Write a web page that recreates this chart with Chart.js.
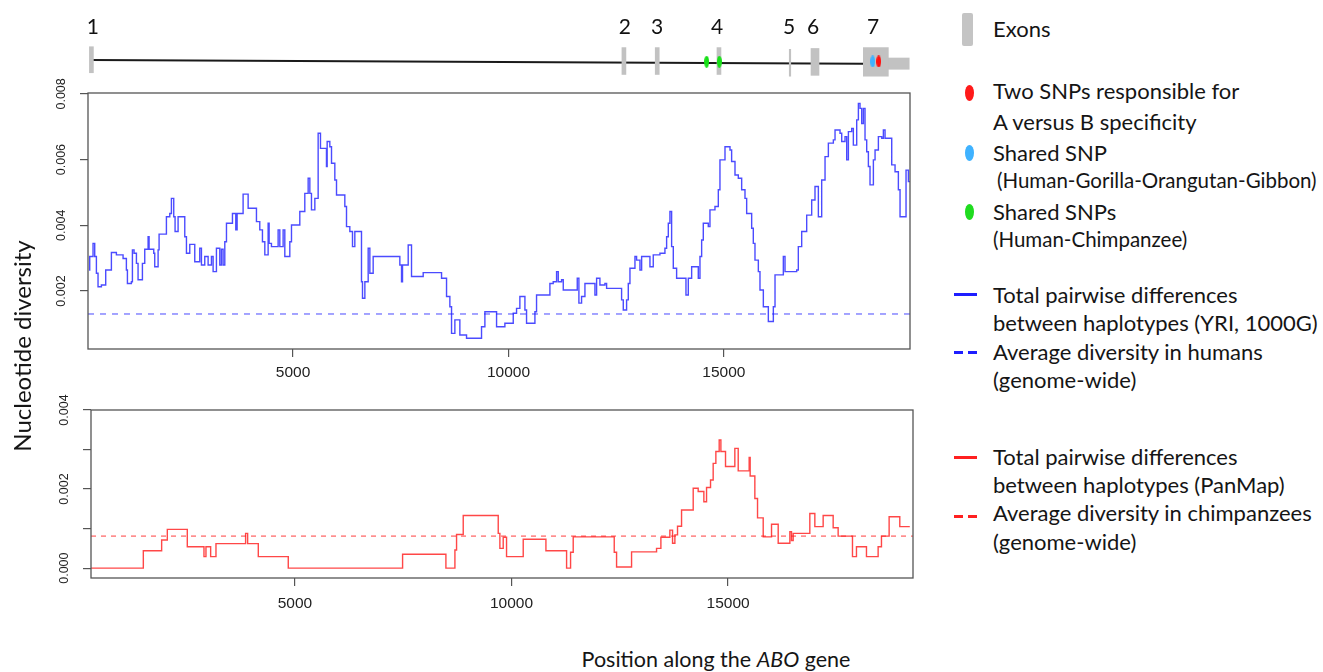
<!DOCTYPE html>
<html>
<head>
<meta charset="utf-8">
<script src="https://cdn.jsdelivr.net/npm/chart.js@4"></script>
<style>
  body { margin: 0; width: 1323px; height: 672px; position: relative; overflow: hidden; background: #fff; font-family: Lato, sans-serif; color: #151515; }
  canvas { position: absolute; left: 0; }
  .t { position: absolute; white-space: nowrap; font-size: 22px; line-height: 22px; }
  .s { font-size: 20.5px; line-height: 20px; }
  .mk { position: absolute; }
</style>
</head>
<body>
<canvas id="gene" width="930" height="90" style="top:0"></canvas>
<canvas id="human" width="930" height="320" style="top:70px"></canvas>
<canvas id="chimp" width="930" height="240" style="top:385px"></canvas>

<div class="t" style="left:-128px;top:335px;width:300px;text-align:center;transform:rotate(-90deg);font-size:24px">Nucleotide diversity</div>
<div class="t" style="left:566px;top:648px;width:300px;text-align:center;font-size:21.5px">Position along the <i>ABO</i> gene</div>

<!-- legend -->
<div class="mk" style="left:962px;top:13px;width:11px;height:33px;background:#c4c4c4;border-radius:2px"></div>
<div class="t" style="left:993px;top:17.5px">Exons</div>
<div class="mk" style="left:964.5px;top:84.5px;width:9px;height:16px;background:#ff1a1a;border-radius:50%"></div>
<div class="t" style="left:993px;top:80px">Two SNPs responsible for</div>
<div class="t" style="left:993px;top:110.5px">A versus B specificity</div>
<div class="mk" style="left:964.5px;top:144.5px;width:9px;height:16px;background:#3fb2ff;border-radius:50%"></div>
<div class="t" style="left:993px;top:142px">Shared SNP</div>
<div class="t s" style="left:997px;top:170px">(Human-Gorilla-Orangutan-Gibbon)</div>
<div class="mk" style="left:964.5px;top:204px;width:9px;height:16px;background:#1fdc1f;border-radius:50%"></div>
<div class="t" style="left:993px;top:200.5px">Shared SNPs</div>
<div class="t s" style="left:993px;top:229px">(Human-Chimpanzee)</div>

<div class="mk" style="left:954px;top:292.5px;width:23px;height:3px;background:#1e1eff"></div>
<div class="t" style="left:993px;top:283.5px">Total pairwise differences</div>
<div class="t" style="left:993px;top:312px">between haplotypes (YRI, 1000G)</div>
<div class="mk" style="left:954px;top:351px;width:9px;height:3px;background:#1e1eff"></div>
<div class="mk" style="left:968px;top:351px;width:9px;height:3px;background:#1e1eff"></div>
<div class="t" style="left:993px;top:340.5px">Average diversity in humans</div>
<div class="t" style="left:993px;top:368.5px">(genome-wide)</div>

<div class="mk" style="left:954px;top:455.5px;width:23px;height:3px;background:#ff2020"></div>
<div class="t" style="left:993px;top:445.5px">Total pairwise differences</div>
<div class="t" style="left:993px;top:473.5px">between haplotypes (PanMap)</div>
<div class="mk" style="left:954px;top:514.5px;width:9px;height:3px;background:#ff2020"></div>
<div class="mk" style="left:968px;top:514.5px;width:9px;height:3px;background:#ff2020"></div>
<div class="t" style="left:993px;top:502px">Average diversity in chimpanzees</div>
<div class="t" style="left:993px;top:530.5px">(genome-wide)</div>

<script>
// ---- data ----
const xTicks = [5000, 10000, 15000];
const humanYTicks = [0.002, 0.004, 0.006, 0.008];
const chimpYTicks = [0, 0.001, 0.002, 0.003, 0.004];

// nucleotide diversity, YRI (1000G), step starts
const humanPos = [266, 281, 358, 397, 436, 474, 552, 652, 784, 900, 1055, 1132, 1156, 1248, 1272, 1310, 1365, 1403, 1504, 1558,
  1636, 1659, 1767, 1790, 1868, 1891, 2061, 2139, 2177, 2231, 2262, 2332, 2487, 2526, 2603, 2719, 2835, 2874, 2951, 3029,
  3106, 3145, 3222, 3300, 3338, 3377, 3416, 3455, 3594, 3671, 3702, 3841, 3958, 4151, 4228, 4290, 4345, 4422, 4445, 4499,
  4654, 4693, 4770, 4809, 4925, 4964, 5157, 5273, 5351, 5390, 5428, 5506, 5583, 5637, 5776, 5792, 5854, 5893, 5970, 6009,
  6202, 6241, 6318, 6380, 6434, 6589, 6612, 6667, 6744, 6783, 6860, 7479, 7518, 7541, 7673, 7750, 8021, 8447, 8563, 8640,
  8679, 8756, 8872, 9027, 9375, 9453, 9724, 9917, 10111, 10188, 10265, 10382, 10420, 10614, 10652, 10962, 11039, 11117, 11156, 11233,
  11272, 11597, 11635, 11697, 11775, 12007, 12046, 12123, 12239, 12278, 12626, 12665, 12742, 12781, 12820, 12936, 12974, 13052, 13091, 13284,
  13361, 13516, 13632, 13671, 13710, 13748, 13787, 13826, 13903, 14120, 14174, 14252, 14406, 14445, 14484, 14522, 14638, 14677, 14793, 14871,
  14909, 15026, 15142, 15180, 15258, 15335, 15413, 15490, 15529, 15645, 15683, 15722, 15800, 15838, 15916, 16032, 16148, 16187, 16380, 16419,
  16690, 16728, 16806, 16922, 17038, 17115, 17193, 17270, 17348, 17425, 17541, 17580, 17696, 17735, 17812, 17851, 17890, 17967, 18005, 18083,
  18122, 18160, 18199, 18238, 18276, 18315, 18354, 18392, 18470, 18509, 18586, 18664, 18702, 18741, 18896, 18973, 19050, 19089, 19228, 19283, 19320];
const humanPi = [0.00264, 0.00305, 0.00345, 0.00305, 0.00254, 0.00213, 0.00218, 0.00264, 0.00317, 0.0031, 0.00299, 0.00264, 0.00223, 0.00228, 0.00325, 0.00315, 0.00284, 0.00234, 0.00284, 0.00327,
  0.00365, 0.00327, 0.00315, 0.00274, 0.00325, 0.00373, 0.00426, 0.00436, 0.00482, 0.00426, 0.00381, 0.00426, 0.00365, 0.00315, 0.00342, 0.00289, 0.0033, 0.00279, 0.00305, 0.00279,
  0.00305, 0.00259, 0.0033, 0.00279, 0.00327, 0.00279, 0.0035, 0.00406, 0.00436, 0.00386, 0.00436, 0.00495, 0.00452, 0.00411, 0.00386, 0.0035, 0.0031, 0.00406, 0.00345, 0.00335,
  0.00386, 0.00335, 0.00386, 0.00305, 0.0035, 0.00401, 0.00442, 0.00497, 0.00543, 0.00497, 0.00447, 0.00482, 0.0068, 0.00634, 0.00579, 0.00655, 0.00639, 0.00589, 0.00538, 0.00492,
  0.00457, 0.00396, 0.00381, 0.00335, 0.00381, 0.00228, 0.00178, 0.00228, 0.0033, 0.00254, 0.00305, 0.00279, 0.00228, 0.00279, 0.0034, 0.00244, 0.00256, 0.00239, 0.00183, 0.00152,
  0.00071, 0.00112, 0.00066, 0.00056, 0.00091, 0.00137, 0.00091, 0.00102, 0.00132, 0.00147, 0.00183, 0.00142, 0.00102, 0.00137, 0.00188, 0.00223, 0.00228, 0.00259, 0.00228, 0.00234,
  0.00203, 0.00239, 0.00163, 0.00183, 0.00223, 0.00188, 0.00239, 0.00218, 0.00223, 0.00208, 0.00173, 0.00142, 0.00173, 0.00223, 0.00269, 0.00305, 0.00294, 0.00264, 0.00305, 0.00274,
  0.0031, 0.00315, 0.0033, 0.00365, 0.00406, 0.00442, 0.00335, 0.00269, 0.00239, 0.00188, 0.00239, 0.00274, 0.00239, 0.00305, 0.00355, 0.00406, 0.00396, 0.00447, 0.00457, 0.00508,
  0.00599, 0.00639, 0.00629, 0.00594, 0.00553, 0.00543, 0.00508, 0.00482, 0.00436, 0.00391, 0.00345, 0.00294, 0.00259, 0.00203, 0.00152, 0.00107, 0.00152, 0.00249, 0.00305, 0.00259,
  0.00264, 0.00335, 0.00381, 0.00431, 0.00477, 0.00518, 0.00426, 0.00538, 0.00609, 0.0065, 0.0066, 0.0069, 0.0068, 0.00655, 0.0067, 0.00599, 0.00685, 0.00695, 0.00644, 0.00721,
  0.00771, 0.00756, 0.0071, 0.00756, 0.0066, 0.00624, 0.00579, 0.00523, 0.00599, 0.00629, 0.0067, 0.00665, 0.0069, 0.00665, 0.00584, 0.00563, 0.00508, 0.00426, 0.00568, 0.00533, 0.00533];
const humanAvg = 0.0013;

// nucleotide diversity, chimpanzee (PanMap), step starts
const chimpPos = [293, 1501, 1924, 2055, 2516, 2901, 2947, 3055, 3178, 3862, 3909, 4155, 4847, 7486, 8486, 8694, 8732, 8886, 9694, 9732,
  9809, 9886, 10271, 10795, 11272, 11364, 11425, 12372, 12426, 12772, 13349, 13449, 13656, 13718, 13772, 13833, 13926, 14195, 14310, 14441,
  14503, 14595, 14656, 14718, 14795, 14834, 14941, 15156, 15234, 15487, 15510, 15618, 15680, 15811, 16003, 16157, 16426, 16464, 16503, 16887,
  17003, 17195, 17426, 17541, 17872, 17964, 18195, 18464, 18541, 18718, 18964, 19195];
const chimpPi = [0, 0.00044, 0.00071, 0.00098, 0.00054, 0.00029, 0.00054, 0.00029, 0.00062, 0.00088, 0.00062, 0.00029, 0, 0.00035, 0, 0.00046, 0.00085, 0.00133, 0.00088, 0.0005,
  0.00078, 0.00029, 0.00073, 0.00044, 0, 0.0004, 0.00079, 0.0004, 0.00003, 0.00041, 0.0005, 0.00078, 0.00096, 0.00063, 0.00084, 0.00106, 0.00147, 0.00202, 0.00194, 0.00168,
  0.00204, 0.00223, 0.00265, 0.00295, 0.00324, 0.00295, 0.00257, 0.00303, 0.00246, 0.0028, 0.00233, 0.00176, 0.00127, 0.00079, 0.00111, 0.00063, 0.00092, 0.0007, 0.00088, 0.00138,
  0.00105, 0.00133, 0.00102, 0.00081, 0.00029, 0.00054, 0.00029, 0.00054, 0.00081, 0.0013, 0.00105, 0.00105];
const chimpAvg = 0.00081;

// gene model (track units: 0 = intron line)
const exonNames = ['1', '2', '3', '4', '5', '6', '7'];
const exonPos = [320, 12680, 13453, 14886, 16535, 17115, 18527];
const exonTop = [17, 16, 16, 16, 14, 15, 16];
const exonBottom = [-13, -15, -15, -15, -17, -16, -17];
const exonLabelPos = [351, 12703, 13447, 14840, 16512, 17069, 18462];
const utrPos = 19058, utrTop = 4, utrBottom = -9;
const intronStart = 320, intronEnd = 18237;
const intronY = [1.7, -2.7];
const chimpSharedSnps = [14601, 14893];
const gorillaSharedSnp = [18455];
const abSnps = [18594];

// ---- helpers ----
Chart.defaults.font.family = 'Lato, sans-serif';

const boxPlugin = {
  id: 'box',
  afterDraw(c) {
    const a = c.chartArea, ctx = c.ctx;
    ctx.save();
    ctx.strokeStyle = '#555';
    ctx.lineWidth = 1.3;
    ctx.strokeRect(a.left, a.top, a.right - a.left, a.bottom - a.top);
    ctx.restore();
  }
};

function panelOptions(cfg) {
  return {
    responsive: false,
    animation: false,
    devicePixelRatio: 1,
    layout: { padding: { left: 0, top: cfg.top, right: cfg.right, bottom: 0 } },
    plugins: { legend: { display: false }, tooltip: { enabled: false } },
    scales: {
      x: {
        type: 'linear', min: cfg.xMin, max: cfg.xMax, offset: false,
        afterBuildTicks: s => { s.ticks = xTicks.map(v => ({ value: v })); },
        afterFit: s => { s.height = cfg.xHeight; },
        grid: { drawOnChartArea: false, tickLength: 8, color: '#555', lineWidth: 1.2 },
        border: { display: false },
        ticks: {
          padding: cfg.xPad, autoSkip: false, maxRotation: 0, color: '#222',
          font: { family: 'Liberation Sans', size: 15.5 },
          callback: v => String(v)
        }
      },
      y: {
        type: 'linear', min: cfg.yMin, max: cfg.yMax,
        afterBuildTicks: s => { s.ticks = cfg.yTicks.map(v => ({ value: v })); },
        afterFit: s => { s.width = cfg.yWidth; },
        grid: { drawOnChartArea: false, tickLength: 8, color: '#555', lineWidth: 1.2 },
        border: { display: false },
        ticks: {
          minRotation: 90, maxRotation: 90, crossAlign: 'center', padding: 3, autoSkip: false, color: '#222',
          font: { family: 'Liberation Sans', size: 12.5 },
          callback: cfg.yLabel
        }
      }
    }
  };
}

function steps(pos, vals) {
  return pos.map((x, i) => ({ x: x, y: vals[i] }));
}

// ---- human panel ----
const humanX = [241, 19320];
new Chart(document.getElementById('human'), {
  type: 'line',
  data: {
    datasets: [
      { data: steps(humanPos, humanPi), stepped: true, borderColor: 'rgba(30,30,255,0.8)', borderWidth: 1.4, pointRadius: 0 },
      { data: [{ x: humanX[0], y: humanAvg }, { x: humanX[1], y: humanAvg }], borderColor: '#7373ff', borderWidth: 1.3, borderDash: [6, 6], pointRadius: 0 }
    ]
  },
  options: panelOptions({
    top: 23, right: 20, xMin: humanX[0], xMax: humanX[1], xHeight: 41, xPad: 6,
    yMin: 0.000234, yMax: 0.008027, yTicks: humanYTicks, yWidth: 88,
    yLabel: v => v.toFixed(3)
  }),
  plugins: [boxPlugin]
});

// ---- chimpanzee panel ----
const chimpX = [293, 19269];
new Chart(document.getElementById('chimp'), {
  type: 'line',
  data: {
    datasets: [
      { data: steps(chimpPos, chimpPi), stepped: true, borderColor: 'rgba(255,25,25,0.8)', borderWidth: 1.4, pointRadius: 0 },
      { data: [{ x: chimpX[0], y: chimpAvg }, { x: chimpX[1], y: chimpAvg }], borderColor: '#ff6b6b', borderWidth: 1.3, borderDash: [5, 5], pointRadius: 0 }
    ]
  },
  options: panelOptions({
    top: 25, right: 17, xMin: chimpX[0], xMax: chimpX[1], xHeight: 47, xPad: 8,
    yMin: -0.00025, yMax: 0.004, yTicks: chimpYTicks, yWidth: 91,
    yLabel: v => (Math.round(v * 1000) % 2 === 0 ? v.toFixed(3) : '')
  }),
  plugins: [boxPlugin]
});

// ---- gene model ----
function ellipse(color, w, h) {
  const c = document.createElement('canvas');
  c.width = w; c.height = h;
  const g = c.getContext('2d');
  g.fillStyle = color;
  g.beginPath();
  g.ellipse(w / 2, h / 2, w / 2, h / 2, 0, 0, Math.PI * 2);
  g.fill();
  return c;
}

const exonLabelPlugin = {
  id: 'exonLabels',
  afterDatasetsDraw(c) {
    const ctx = c.ctx, xs = c.scales.x, ys = c.scales.y;
    ctx.save();
    ctx.fillStyle = '#111';
    ctx.font = '21px Lato';
    ctx.textAlign = 'center';
    ctx.textBaseline = 'middle';
    exonNames.forEach((n, i) => ctx.fillText(n, xs.getPixelForValue(exonLabelPos[i]), ys.getPixelForValue(39)));
    ctx.restore();
  }
};

const exonWidthPx = [4, 4, 4, 4, 1.5, 8, 25];
const geneDatasets = [
  { type: 'scatter', data: abSnps.map(x => ({ x: x, y: 0 })), pointStyle: ellipse('#ff1010', 5, 12), pointRadius: 5 },
  { type: 'scatter', data: gorillaSharedSnp.map(x => ({ x: x, y: 0 })), pointStyle: ellipse('#3fb2ff', 5, 12), pointRadius: 5 },
  { type: 'scatter', data: chimpSharedSnps.map(x => ({ x: x, y: -0.3 })), pointStyle: ellipse('#17e017', 5, 12), pointRadius: 5 }
];
exonPos.forEach((p, i) => {
  geneDatasets.push({ type: 'bar', data: [{ x: p, y: [exonBottom[i], exonTop[i]] }], barThickness: exonWidthPx[i], backgroundColor: '#c2c2c2', grouped: false });
});
geneDatasets.push({ type: 'bar', data: [{ x: utrPos, y: [utrBottom, utrTop] }], barThickness: 21, backgroundColor: '#c2c2c2', grouped: false });
geneDatasets.push({ type: 'line', data: [{ x: intronStart, y: intronY[0] }, { x: intronEnd, y: intronY[1] }], borderColor: '#1a1a1a', borderWidth: 2, pointRadius: 0 });

new Chart(document.getElementById('gene'), {
  type: 'line',
  data: { datasets: geneDatasets },
  options: {
    responsive: false,
    animation: false,
    devicePixelRatio: 1,
    layout: { padding: { left: 88, right: 20, top: 0, bottom: 0 } },
    plugins: { legend: { display: false }, tooltip: { enabled: false } },
    scales: {
      x: { type: 'linear', display: false, min: humanX[0], max: humanX[1], offset: false },
      y: { type: 'linear', display: false, min: -26, max: 64 }
    }
  },
  plugins: [exonLabelPlugin]
});
</script>
</body>
</html>
